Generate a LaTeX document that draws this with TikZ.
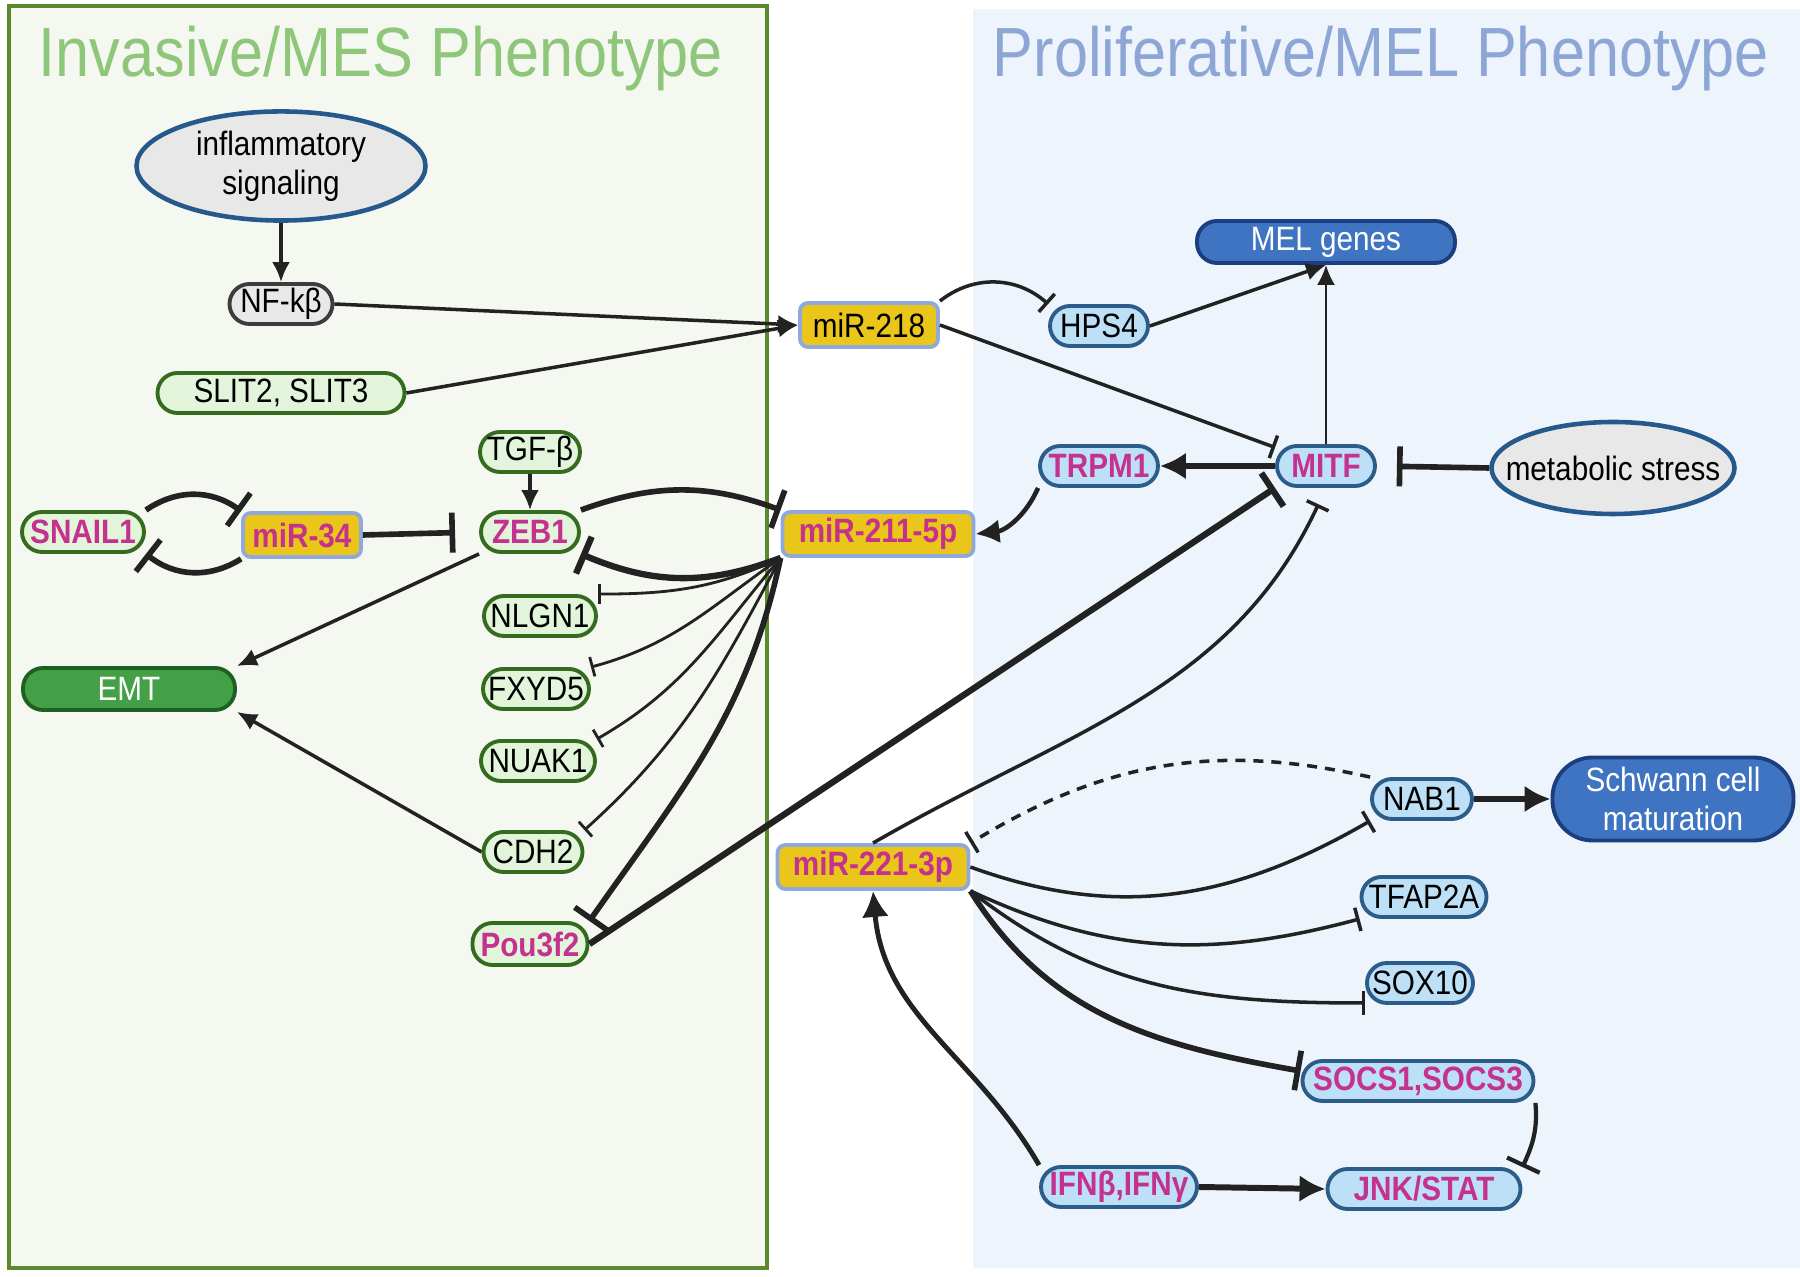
\documentclass[tikz,border=0pt]{standalone}
\usepackage{fontspec}
\setmainfont{Liberation Sans}[FakeStretch=0.88]
\usepackage{xcolor}
\usetikzlibrary{arrows.meta,shapes.geometric,calc}

\definecolor{magen}{RGB}{196,49,143}
\definecolor{mfill}{RGB}{234,197,26}
\definecolor{mline}{RGB}{143,169,220}
\definecolor{gfill}{RGB}{226,244,218}
\definecolor{gline}{RGB}{53,107,31}
\definecolor{bfill}{RGB}{189,224,246}
\definecolor{bline}{RGB}{44,93,138}
\definecolor{gryfill}{RGB}{232,232,232}
\definecolor{gryline}{RGB}{60,60,60}
\definecolor{oline}{RGB}{37,89,139}
\definecolor{dkblue}{RGB}{62,116,194}
\definecolor{dkbline}{RGB}{29,62,126}
\definecolor{emtfill}{RGB}{68,160,71}
\definecolor{emtline}{RGB}{30,95,34}
\definecolor{leftbg}{RGB}{244,248,241}
\definecolor{leftline}{RGB}{91,138,46}
\definecolor{rightbg}{RGB}{237,244,252}
\definecolor{titgrn}{RGB}{142,198,122}
\definecolor{titblu}{RGB}{141,166,214}
\definecolor{lncol}{RGB}{34,34,34}

\newcommand{\nodefont}{\fontsize{9.6}{11}\selectfont}

\begin{document}
\begin{tikzpicture}[
	font=\nodefont,
	pill/.style={rounded corners=2mm, minimum height=4mm, inner sep=1pt, line width=1.1pt},
	gn/.style={pill, draw=gline, fill=gfill},
	bn/.style={pill, draw=bline, fill=bfill},
	mirbox/.style={draw=mline, fill=mfill, rounded corners=0.8mm, minimum height=4.4mm, inner sep=1pt, line width=1.1pt},
	hot/.style={text=magen, font=\nodefont\bfseries},
	oval/.style={ellipse, draw=oline, fill=gryfill, line width=1.3pt, inner sep=1pt},
	outcome/.style={pill, draw=dkbline, fill=dkblue, text=white},
	act/.style={draw=lncol, line width=1pt, -{Latex[length=2mm,width=1.8mm]}},
	bigact/.style={draw=lncol, line width=1.7pt, -{Latex[length=2.6mm,width=2.7mm]}},
	inh/.style={draw=lncol, line width=1pt, -{Bar[width=2.4mm]}},
	thininh/.style={draw=lncol, line width=0.8pt, -{Bar[width=2mm]}},
	biginh/.style={draw=lncol, line width=1.6pt, -{Bar[width=4mm]}},
	titl/.style={font=\fontsize{19.8}{22}\selectfont}
]
\useasboundingbox (0,0) rectangle (18,-12.77);

% the two phenotype panels
\draw[fill=leftbg, draw=leftline, line width=1.2pt] (0.09,-0.06) rectangle (7.67,-12.68);
\fill[rightbg] (9.73,-0.09) rectangle (18,-12.68);
\node[titl, text=titgrn] (ttlmes) at (3.81,-0.59) {Invasive/MES Phenotype};
\node[titl, text=titblu] (ttlmel) at (13.81,-0.59) {Proliferative/MEL Phenotype};

% left side nodes
\node[oval, minimum width=2.89cm, minimum height=1.08cm, align=center] (infl) at (2.81,-1.66) {inflammatory\\signaling};
\node[pill, draw=gryline, fill=gryfill, minimum width=1.03cm] (nfkb) at (2.81,-3.04) {NF-kβ};
\node[gn, minimum width=2.47cm] (slit) at (2.81,-3.93) {SLIT2, SLIT3};
\node[gn, minimum width=1.00cm] (tgfb) at (5.30,-4.52) {TGF-β};
\node[gn, hot, minimum width=1.22cm] (snail) at (0.83,-5.32) {SNAIL1};
\node[mirbox, hot, minimum width=1.18cm] (mir34) at (3.02,-5.35) {miR-34};
\node[gn, hot, minimum width=0.98cm] (zeb1) at (5.30,-5.32) {ZEB1};
\node[gn, minimum width=1.12cm] (nlgn1) at (5.40,-6.16) {NLGN1};
\node[gn, minimum width=1.06cm] (fxyd5) at (5.36,-6.89) {FXYD5};
\node[gn, minimum width=1.14cm] (nuak1) at (5.38,-7.61) {NUAK1};
\node[gn, minimum width=0.99cm] (cdh2) at (5.33,-8.52) {CDH2};
\node[gn, hot, minimum width=1.15cm, minimum height=4.2mm] (pou3f2) at (5.30,-9.44) {Pou3f2};
\node[pill, draw=emtline, fill=emtfill, text=white, minimum width=2.12cm, minimum height=4.2mm] (emt) at (1.29,-6.89) {EMT};

% middle miRNAs
\node[mirbox, minimum width=1.38cm] (mir218) at (8.69,-3.25) {miR-218};
\node[mirbox, hot, minimum width=1.91cm] (mir211) at (8.78,-5.34) {miR-211-5p};
\node[mirbox, hot, minimum width=1.91cm] (mir221) at (8.73,-8.67) {miR-221-3p};

% right side nodes
\node[bn, minimum width=0.98cm] (hps4) at (10.99,-3.26) {HPS4};
\node[outcome, minimum width=2.58cm, minimum height=4.2mm] (melg) at (13.26,-2.42) {MEL genes};
\node[bn, hot, minimum width=1.18cm] (trpm1) at (10.99,-4.66) {TRPM1};
\node[bn, hot, minimum width=0.98cm] (mitf) at (13.26,-4.66) {MITF};
\node[oval, inner xsep=-2.3mm, minimum width=2.43cm, minimum height=0.92cm] (metab) at (16.13,-4.68) {metabolic stress};
\node[bn, minimum width=1.00cm] (nab1) at (14.22,-7.99) {NAB1};
\node[outcome, rounded corners=4mm, minimum width=2.41cm, minimum height=8.3mm, align=center] (schw) at (16.73,-7.99) {Schwann cell\\maturation};
\node[bn, minimum width=1.25cm] (tfap2a) at (14.24,-8.97) {TFAP2A};
\node[bn, minimum width=1.06cm] (sox10) at (14.20,-9.83) {SOX10};
\node[bn, hot, minimum width=2.31cm] (socs) at (14.18,-10.81) {SOCS1,SOCS3};
\node[bn, hot, minimum width=1.56cm] (ifn) at (11.19,-11.87) {IFNβ,IFNγ};
\node[bn, hot, minimum width=1.93cm] (jnk) at (14.24,-11.89) {JNK/STAT};

% upper left
\draw[act] (infl) -- (nfkb);
\draw[act] (nfkb.east) -- (mir218.west);
\draw[act] (slit.east) -- (mir218.west);
\draw[act] (tgfb) -- (zeb1);
\draw[biginh, shorten >=2.4mm] (mir34.east) -- (zeb1.west);
\draw[biginh] (snail.north east) to[bend left=35] (mir34.north west);
\draw[biginh] (mir34.south west) to[bend left=35] (snail.south east);
\draw[act] (zeb1.south west) -- (emt.north east);
\draw[act] (cdh2.west) -- (emt.south east);

% miR-211-5p loop and targets
\draw[biginh] (zeb1.north east) to[bend left=20] (mir211.north west);
\draw[biginh, line width=1.8pt] (mir211.south west) to[bend left=22] (zeb1.south east);
\draw[thininh] (mir211.south west) to[out=205,in=0] (nlgn1.north east);
\draw[thininh] (mir211.south west) to[out=215,in=15] (fxyd5.north east);
\draw[thininh] (mir211.south west) to[out=230,in=30] (nuak1.north east);
\draw[thininh] (mir211.south west) to[out=242,in=42] (cdh2.north east);
\draw[biginh] (mir211.south west) to[out=258,in=55] (pou3f2.north east);
\draw[act, line width=1.3pt, -{Latex[length=2.4mm,width=2.4mm]}] (trpm1.south west) to[bend left=30] (mir211.east);

% MITF hub
\draw[inh] (mir218.north east) to[bend left=40] (hps4.north west);
\draw[act] (hps4.east) -- (melg.south);
\draw[act, line width=0.7pt] (mitf.north) -- (melg.south);
\draw[inh] (mir218.east) -- (mitf.160);
\draw[bigact] (mitf.west) -- (trpm1.east);
\draw[biginh, shorten >=2mm] (metab.west) -- (mitf.east);
\draw[biginh, line width=1.8pt] (pou3f2.east) -- (mitf.south west);
\draw[inh, shorten >=1.8mm] (mir221.north) to[out=30,in=245] (mitf.south);

% miR-221-3p targets
\draw[inh, dashed, dash pattern=on 1mm off 0.8mm] (nab1.north west) to[bend right=22] (mir221.north east);
\draw[inh] (mir221.east) to[out=-20,in=210] (nab1.south west);
\draw[bigact, line width=1.6pt] (nab1.east) -- (schw.west);
\draw[inh] (mir221.south east) to[out=-25,in=195] (tfap2a.south west);
\draw[inh] (mir221.south east) to[out=-38,in=180] (sox10.200);
\draw[biginh] (mir221.south east) to[out=-58,in=170] ([yshift=1mm]socs.west);
\draw[inh, line width=1.2pt, -{Bar[width=3.6mm]}] (socs.south east) to[out=-85,in=65] (jnk.north east);
\draw[bigact] (ifn.east) -- (jnk.west);
\draw[bigact, line width=1.4pt] (ifn.north west) to[out=120,in=-85] (mir221.south);
\end{tikzpicture}
\end{document}
